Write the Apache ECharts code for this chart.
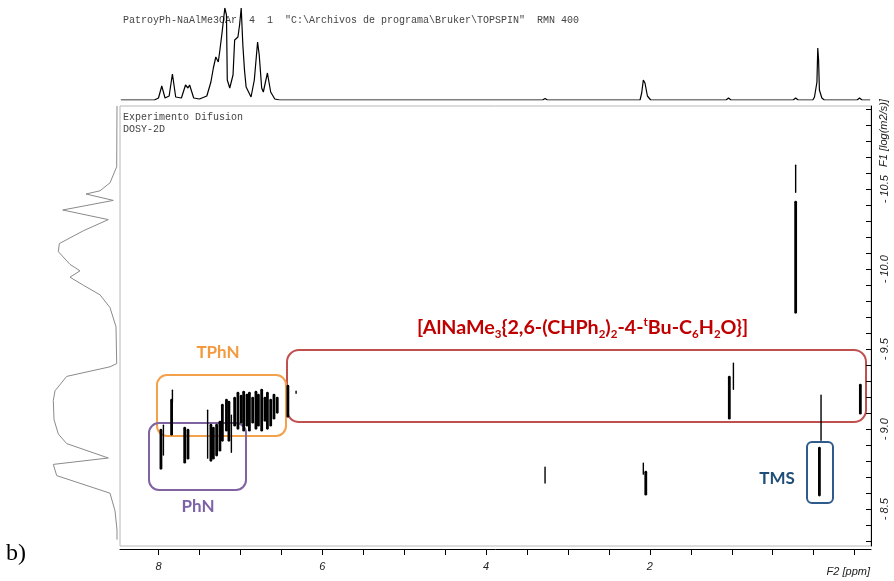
<!DOCTYPE html>
<html><head><meta charset="utf-8">
<script src="https://cdn.jsdelivr.net/npm/echarts@6/dist/echarts.min.js"></script>
<style>html,body{margin:0;padding:0;background:#fff}#c{width:894px;height:581px}</style>
</head><body><div id="c"></div>
<script>
// ---- 1D projection on top: chemical shift (ppm) and intensity
const topPpm = [8.46,8.05,8.00,7.96,7.92,7.87,7.83,7.79,7.72,7.67,7.64,7.62,7.57,7.50,7.41,7.36,7.33,7.30,7.27,7.25,7.22,7.19,7.17,7.16,7.13,7.11,7.09,7.07,7.03,7.01,6.99,6.97,6.95,6.93,6.87,6.83,6.79,6.77,6.74,6.72,6.67,6.63,6.58,6.52,6.34,6.32,6.30,5.25,5.23,5.21,3.31,3.28,3.25,2.12,2.10,2.08,2.06,2.04,2.03,1.99,1.07,1.04,1.01,0.25,0.22,0.19,0.12,0.10,0.08,0.01,-0.01,-0.04,-0.05,-0.06,-0.07,-0.10,-0.13,-0.20,-0.22,-0.24,-0.53,-0.56,-0.59,-0.69];
const topInt = [0,0,2,14,2,4,26,3,2,15,12,15,2,1,4,18,32,43,38,50,70,92,85,20,12,10,25,60,63,75,92,55,30,13,3,20,58,45,12,8,27,8,1,0,0,1,0,0,0.7,0,0,1.5,0,0,7,20,17,15,4,0,0,2,0,0,2,0,0,1,0,0,3,18,52,40,10,2,0,0,1,0,0,2,0,0];

// ---- DOSY projection on the left: intensity and log(D)
const leftInt = [0,0.3,7,17,31,3.7,54.3,8.7,33.7,57.7,58.7,47,37,47,33.7,17,7,1,0.3,7,50.3,62,63.7,63,58.7,50.3,8.7,63.7,60.3,7,2,0,0];
const leftLogD = [-11.02,-10.64,-10.54,-10.49,-10.47,-10.43,-10.37,-10.31,-10.24,-10.16,-10.11,-10.03,-9.99,-9.95,-9.90,-9.84,-9.76,-9.64,-9.41,-9.39,-9.33,-9.24,-9.18,-9.06,-8.97,-8.91,-8.82,-8.78,-8.71,-8.60,-8.49,-8.37,-8.31];

// ---- 2D cross peaks: ppm, log(D) upper end, log(D) lower end
const strongPpm = [7.97,7.84,7.68,7.64,7.36,7.33,7.29,7.25,7.22,7.17,7.14,7.07,7.03,6.99,6.96,6.92,6.89,6.85,6.81,6.78,6.74,6.70,6.67,6.63,6.59,6.55,6.42,1.03,0.22,-0.57,-0.07,2.05];
const strongTop = [-8.994,-9.181,-9.006,-8.994,-9.025,-9.006,-9.025,-9.044,-9.150,-9.181,-9.169,-9.194,-9.225,-9.206,-9.231,-9.213,-9.225,-9.194,-9.231,-9.213,-9.244,-9.194,-9.225,-9.181,-9.213,-9.194,-9.269,-9.325,-10.419,-9.275,-8.881,-8.731];
const strongBottom = [-8.756,-8.969,-8.794,-8.819,-8.806,-8.819,-8.838,-8.869,-8.931,-8.994,-8.931,-9.025,-9.006,-9.044,-8.994,-9.025,-8.994,-9.044,-9.006,-9.025,-8.994,-9.056,-9.006,-9.025,-9.069,-9.106,-9.081,-9.069,-9.731,-9.100,-8.588,-8.594];
const weakPpm = [7.94,7.83,7.40,7.11,0.98,0.22,-0.09,3.28,2.08,6.32];
const weakTop = [-9.025,-9.244,-9.119,-9.088,-9.413,-10.650,-9.213,-8.763,-8.788,-9.238];
const weakBottom = [-8.838,-9.169,-8.819,-8.856,-9.250,-10.481,-8.931,-8.663,-8.719,-9.225];

// ---- axis ticks
const xTicks = [8,7.5,7,6.5,6,5.5,5,4.5,4,3.5,3,2.5,2,1.5,1,0.5,0,-0.5];
const xTickLabels = [8,6,4,2];
const yTicks = [-11.0,-10.9,-10.8,-10.7,-10.6,-10.5,-10.4,-10.3,-10.2,-10.1,-10.0,-9.9,-9.8,-9.7,-9.6,-9.5,-9.4,-9.3,-9.2,-9.1,-9.0,-8.9,-8.8,-8.7,-8.6,-8.5,-8.4,-8.3];
const yTickLabels = [-10.5,-10.0,-9.5,-9.0,-8.5];

const X_MIN = -0.70, X_MAX = 8.47, Y_MIN = -11.02, Y_MAX = -8.27;

function zip(a, b) { return a.map((v, i) => [v, b[i]]); }
function zip3(a, b, c) { return a.map((v, i) => [v, b[i], c[i]]); }

function streak(width) {
  return function (params, api) {
    const p1 = api.coord([api.value(0), api.value(1)]);
    const p2 = api.coord([api.value(0), api.value(2)]);
    return {
      type: 'line',
      shape: { x1: p1[0], y1: p1[1], x2: p2[0], y2: p2[1] },
      style: { stroke: '#000', lineWidth: width, lineCap: 'round' }
    };
  };
}

const chart = echarts.init(document.getElementById('c'), null, { renderer: 'canvas' });
const axisFont = { fontFamily: 'Liberation Sans', fontStyle: 'italic', fontSize: 11, color: '#222' };

const option = {
  animation: false,
  backgroundColor: '#fff',
  grid: [
    { left: 120, top: 106, width: 751, height: 440, show: true, borderColor: '#b8b8b8', borderWidth: 1, backgroundColor: 'transparent' },
    { left: 120, top: 8, width: 751, height: 92 },
    { left: 17, top: 106, width: 100, height: 440 }
  ],
  xAxis: [
    { gridIndex: 0, type: 'value', min: X_MIN, max: X_MAX, inverse: true, position: 'bottom', offset: 3,
      axisLine: { show: true, onZero: false, lineStyle: { color: '#000', width: 1 } },
      axisTick: { show: true, length: 6, customValues: xTicks, lineStyle: { color: '#000' } },
      axisLabel: Object.assign({ customValues: xTickLabels, margin: 12, formatter: v => String(v) }, axisFont),
      splitLine: { show: false } },
    { gridIndex: 1, type: 'value', min: X_MIN, max: X_MAX, inverse: true, show: false },
    { gridIndex: 2, type: 'value', min: 0, max: 100, inverse: true, show: false }
  ],
  yAxis: [
    { gridIndex: 0, type: 'value', min: Y_MIN, max: Y_MAX, inverse: true, position: 'right',
      axisLine: { show: true, onZero: false, lineStyle: { color: '#000', width: 1 } },
      axisTick: { show: true, inside: true, length: 5, customValues: yTicks, lineStyle: { color: '#000' } },
      axisLabel: Object.assign({ customValues: yTickLabels, rotate: 90, margin: 8, formatter: v => '- ' + Math.abs(v).toFixed(1) }, axisFont),
      splitLine: { show: false } },
    { gridIndex: 1, type: 'value', min: 0, max: 92, show: false },
    { gridIndex: 2, type: 'value', min: Y_MIN, max: Y_MAX, inverse: true, show: false }
  ],
  series: [
    { type: 'line', xAxisIndex: 1, yAxisIndex: 1, data: zip(topPpm, topInt), symbol: 'none', silent: true,
      lineStyle: { color: '#000', width: 1.2 } },
    { type: 'line', xAxisIndex: 2, yAxisIndex: 2, data: zip(leftInt, leftLogD), symbol: 'none', silent: true,
      lineStyle: { color: '#8a8a8a', width: 1 } },
    { type: 'custom', xAxisIndex: 0, yAxisIndex: 0, renderItem: streak(2.8), encode: { x: 0, y: [1, 2] },
      data: zip3(strongPpm, strongTop, strongBottom), clip: true },
    { type: 'custom', xAxisIndex: 0, yAxisIndex: 0, renderItem: streak(1.4), encode: { x: 0, y: [1, 2] },
      data: zip3(weakPpm, weakTop, weakBottom), clip: true }
  ],
  graphic: [
    { type: 'text', x: 123, y: 20, style: { text: 'PatroyPh-NaAlMe3OAr  4  1  "C:\\Archivos de programa\\Bruker\\TOPSPIN"  RMN 400', font: '10px "Liberation Mono"', fill: '#444', verticalAlign: 'middle' } },
    { type: 'text', x: 123, y: 117, style: { text: 'Experimento Difusion', font: '10px "Liberation Mono"', fill: '#444', verticalAlign: 'middle' } },
    { type: 'text', x: 123, y: 129, style: { text: 'DOSY-2D', font: '10px "Liberation Mono"', fill: '#444', verticalAlign: 'middle' } },
    { type: 'text', x: 884, y: 133, rotation: Math.PI / 2, style: { text: 'F1 [log(m2/s)]', font: 'italic 11px "Liberation Sans"', fill: '#222', align: 'center', verticalAlign: 'middle' } },
    { type: 'text', x: 870, y: 572, style: { text: 'F2 [ppm]', font: 'italic 11px "Liberation Sans"', fill: '#222', align: 'right', verticalAlign: 'middle' } },
    { type: 'text', x: 6, y: 554, style: { text: 'b)', font: '24px "Liberation Serif"', fill: '#000', verticalAlign: 'middle' } },
    // annotation boxes
    { type: 'rect', shape: { x: 287, y: 350, width: 579, height: 72, r: 12 }, style: { fill: 'none', stroke: '#C0504D', lineWidth: 2 } },
    { type: 'rect', shape: { x: 157, y: 375, width: 129, height: 61, r: 10 }, style: { fill: 'none', stroke: '#F4A14B', lineWidth: 2 } },
    { type: 'rect', shape: { x: 149, y: 423, width: 97, height: 67, r: 10 }, style: { fill: 'none', stroke: '#8064A2', lineWidth: 2 } },
    { type: 'rect', shape: { x: 807, y: 442, width: 26, height: 61, r: 5 }, style: { fill: 'none', stroke: '#2E5A8C', lineWidth: 2 } },
    { type: 'text', x: 218, y: 353, style: { text: 'TPhN', font: 'bold 17px Lato', fill: '#F39A3E', align: 'center', verticalAlign: 'middle' } },
    { type: 'text', x: 198, y: 507, style: { text: 'PhN', font: 'bold 17px Lato', fill: '#7E62A8', align: 'center', verticalAlign: 'middle' } },
    { type: 'text', x: 777, y: 479, style: { text: 'TMS', font: 'bold 17px Lato', fill: '#1F4E79', align: 'center', verticalAlign: 'middle' } },
    { type: 'text', x: 417, y: 316, style: {
        text: '[AlNaMe{s|3}{2,6-(CHPh{s|2}){s|2}-4-{p|t}Bu-C{s|6}H{s|2}O}]',
        font: 'bold 19.7px Lato', fill: '#C00000', lineHeight: 24,
        rich: {
          s: { fontSize: 11.5, fontWeight: 'bold', fontFamily: 'Lato', fill: '#C00000', lineHeight: 12, verticalAlign: 'bottom' },
          p: { fontSize: 11.5, fontWeight: 'bold', fontFamily: 'Lato', fill: '#C00000', lineHeight: 12, verticalAlign: 'top' }
        } } }
  ]
};
chart.setOption(option);
</script></body></html>
